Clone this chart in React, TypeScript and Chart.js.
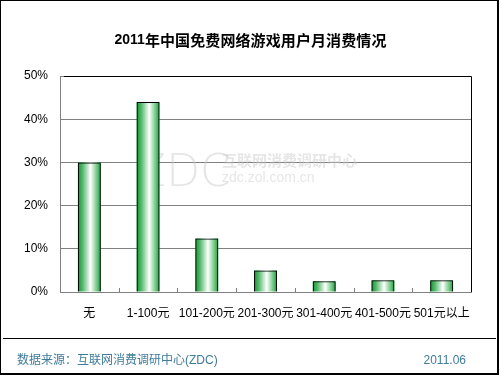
import React, { useEffect, useRef } from "react";
import { Chart, registerables } from "chart.js";

Chart.register(...registerables);

const categories = ["无", "1-100元", "101-200元", "201-300元", "301-400元", "401-500元", "501元以上"];
const shares = [30, 44, 12.4, 5.0, 2.5, 2.7, 2.7];
const yTicks = [0, 10, 20, 30, 40, 50];
const titleDigits = "2011";
const titleCJK = "年中国免费网络游戏用户月消费情况";
const sourceText = "数据来源：互联网消费调研中心(ZDC)";
const dateText = "2011.06";

const LATIN = "'Liberation Sans', Arial, sans-serif";
const CJK = "'Liberation Sans', 'Noto Sans CJK SC', sans-serif";

const decorPlugin = {
  id: "decor",
  beforeDraw(chart: any) {
    const ctx = chart.ctx;
    ctx.save();
    ctx.fillStyle = "#ffffff";
    ctx.fillRect(0, 0, chart.width, chart.height);
    ctx.restore();
  },
  beforeDatasetsDraw(chart: any) {
    const ctx = chart.ctx;
    const ca = chart.chartArea;
    ctx.save();
    // plot area top & right border
    ctx.strokeStyle = "#000000";
    ctx.lineWidth = 1;
    ctx.beginPath();
    ctx.moveTo(ca.left + 4, Math.round(ca.top) + 0.5);
    ctx.lineTo(Math.round(ca.right) + 0.5, Math.round(ca.top) + 0.5);
    ctx.lineTo(Math.round(ca.right) + 0.5, Math.round(ca.bottom));
    ctx.stroke();
    // watermark
    ctx.fillStyle = "rgba(200,200,200,0.45)";
    ctx.textBaseline = "alphabetic";
    ctx.textAlign = "left";
    ctx.font = "300 44px 'DejaVu Sans', sans-serif";
    ctx.fillText("ZDC", 136, 186);
    ctx.font = "bold 15px 'Noto Sans CJK SC', sans-serif";
    ctx.fillText("互联网消费调研中心", 222, 166);
    ctx.font = "14px " + LATIN;
    ctx.fillText("zdc.zol.com.cn", 222, 182);
    ctx.restore();

    // gradient fills of bars
    const meta = chart.getDatasetMeta(0);
    ctx.save();
    meta.data.forEach((el: any) => {
      const p = el.getProps(["x", "y", "base", "width"], true);
      const l = p.x - p.width / 2;
      const r = p.x + p.width / 2;
      const g = ctx.createLinearGradient(l, 0, r, 0);
      g.addColorStop(0, "#159436");
      g.addColorStop(0.2, "#52b86a");
      g.addColorStop(0.55, "#ffffff");
      g.addColorStop(0.8, "#7fcf90");
      g.addColorStop(1, "#1f9e40");
      ctx.fillStyle = g;
      ctx.fillRect(l, Math.min(p.y, p.base), r - l, Math.abs(p.base - p.y));
    });
    ctx.restore();
  },
  afterDatasetsDraw(chart: any) {
    const ctx = chart.ctx;
    const ca = chart.chartArea;
    const xs = chart.scales.x;
    ctx.save();
    ctx.strokeStyle = "#808080";
    ctx.lineWidth = 1;
    for (let i = 1; i < categories.length; i++) {
      const x = Math.round((xs.getPixelForValue(i - 1) + xs.getPixelForValue(i)) / 2) + 0.5;
      ctx.beginPath();
      ctx.moveTo(x, ca.bottom - 4);
      ctx.lineTo(x, ca.bottom);
      ctx.stroke();
    }
    ctx.restore();
  },
  afterDraw(chart: any) {
    const ctx = chart.ctx;
    ctx.save();
    // outer frame
    ctx.strokeStyle = "#000000";
    ctx.lineWidth = 1;
    ctx.strokeRect(0.5, 0.5, 497, 373);
    ctx.fillStyle = "#000000";
    ctx.fillRect(497, 0, 2, 375);
    ctx.fillRect(0, 373, 499, 2);
    // separator
    ctx.beginPath();
    ctx.moveTo(3, 338.5);
    ctx.lineTo(496, 338.5);
    ctx.stroke();
    // title
    ctx.textBaseline = "middle";
    ctx.textAlign = "left";
    ctx.fillStyle = "#000000";
    ctx.font = "bold 14px " + LATIN;
    const dw = ctx.measureText(titleDigits).width;
    const cjkAdvance = 15.1;
    const total = dw + titleCJK.length * cjkAdvance;
    let x = 250.5 - total / 2;
    ctx.fillText(titleDigits, x, 40);
    x += dw;
    ctx.font = "bold 15px 'Noto Sans CJK SC', sans-serif";
    for (const ch of titleCJK) {
      ctx.fillText(ch, x, 40);
      x += cjkAdvance;
    }
    // footer
    ctx.fillStyle = "#3f7c9b";
    ctx.font = "12px " + CJK;
    ctx.fillText(sourceText, 17, 361);
    ctx.textAlign = "right";
    ctx.font = "12px " + LATIN;
    ctx.fillText(dateText, 466, 361);
    ctx.restore();
  },
};

export default function App() {
  const ref = useRef<HTMLCanvasElement | null>(null);

  useEffect(() => {
    document.body.style.margin = "0";
    if (!ref.current) return;
    const chart = new Chart(ref.current, {
      type: "bar",
      data: {
        labels: categories,
        datasets: [
          {
            data: shares,
            backgroundColor: "rgba(0,0,0,0)",
            borderColor: "#000000",
            borderWidth: 1,
            barPercentage: 0.39,
            categoryPercentage: 1,
          },
        ],
      },
      options: {
        animation: false,
        responsive: true,
        maintainAspectRatio: false,
        devicePixelRatio: 1,
        layout: { padding: { top: 76, right: 29, left: 0, bottom: 0 } },
        plugins: {
          legend: { display: false },
          title: { display: false },
          tooltip: { enabled: false },
        },
        scales: {
          x: {
            offset: true,
            grid: { display: true, drawOnChartArea: false, drawTicks: false },
            border: { display: true, color: "#808080", width: 1 },
            ticks: {
              color: "#000000",
              padding: 14,
              maxRotation: 0,
              autoSkip: false,
              font: { size: 12, family: CJK },
            },
            afterFit: (s: any) => {
              s.height = 83;
            },
          },
          y: {
            min: 0,
            max: 50,
            afterBuildTicks: (s: any) => {
              s.ticks = yTicks.map((v) => ({ value: v }));
            },
            grid: { color: "#808080", lineWidth: 1, drawTicks: false },
            border: { display: true, color: "#808080", width: 1 },
            ticks: {
              color: "#000000",
              padding: 12,
              font: { size: 12, family: LATIN },
              callback: (v: any) => v + "%",
            },
            afterFit: (s: any) => {
              s.width = 60;
            },
          },
        },
      },
      plugins: [decorPlugin],
    });
    return () => chart.destroy();
  }, []);

  return (
    <div style={{ width: 500, height: 375, position: "relative" }}>
      <canvas ref={ref} />
    </div>
  );
}
